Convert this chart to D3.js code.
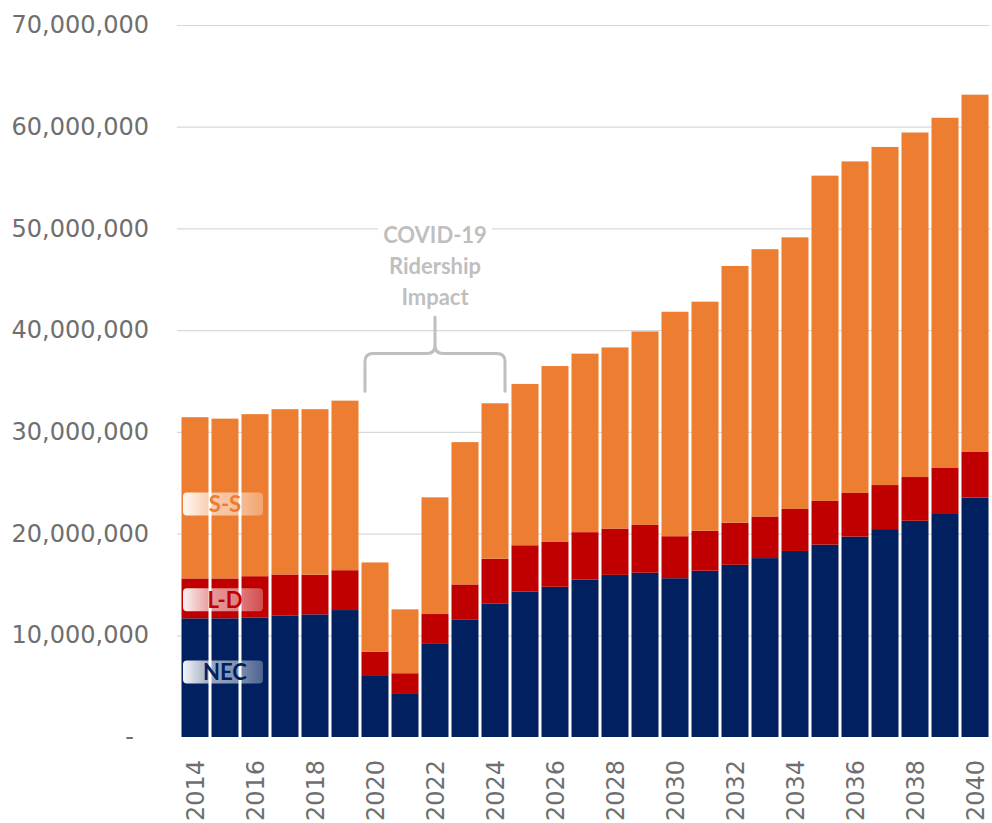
<!DOCTYPE html>
<html>
<head>
<meta charset="utf-8">
<script src="https://cdn.jsdelivr.net/npm/d3@7"></script>
<style>
  body { margin: 0; background: #fff; }
</style>
</head>
<body>
<div id="my_dataviz"></div>
<script>
// ridership by year
var years = ["2014","2015","2016","2017","2018","2019","2020","2021","2022","2023","2024","2025","2026",
             "2027","2028","2029","2030","2031","2032","2033","2034","2035","2036","2037","2038","2039","2040"];
var nec = [11.67, 11.67, 11.76, 11.96, 12.06, 12.48, 6.08, 4.31, 9.22, 11.57, 13.14, 14.28, 14.77,
           15.49, 15.94, 16.15, 15.61, 16.35, 16.93, 17.59, 18.29, 18.91, 19.70, 20.44, 21.26, 22.01, 23.53];
var ld  = [3.92, 3.92, 4.05, 4.02, 3.89, 3.92, 2.32, 1.96, 2.87, 3.43, 4.38, 4.57, 4.45,
           4.65, 4.55, 4.70, 4.13, 3.92, 4.13, 4.09, 4.13, 4.30, 4.29, 4.33, 4.30, 4.49, 4.54];
var ss  = [15.85, 15.71, 15.93, 16.25, 16.28, 16.67, 8.76, 6.28, 11.47, 13.99, 15.29, 15.86, 17.25,
           17.55, 17.81, 19.02, 22.07, 22.53, 25.25, 26.28, 26.70, 31.98, 32.60, 33.24, 33.87, 34.38, 35.08];
var yTicks = [0, 10000000, 20000000, 30000000, 40000000, 50000000, 60000000, 70000000];
var xTicks = ["2014","2016","2018","2020","2022","2024","2026","2028","2030","2032","2034","2036","2038","2040"];

var keys = ["NEC", "LD", "SS"];
var colors = {NEC: "#002060", LD: "#C00000", SS: "#ED7D31"};

var data = years.map(function(yr, i) {
  return {year: yr, NEC: nec[i] * 1e6, LD: ld[i] * 1e6, SS: ss[i] * 1e6};
});

var width = 992, height = 823;

var svg = d3.select("#my_dataviz")
    .append("svg")
    .attr("width", width)
    .attr("height", height);

var x = d3.scaleBand().domain(years).range([180, 990]).paddingInner(0.1).paddingOuter(0.05);
var y = d3.scaleLinear().domain([0, 70000000]).range([737, 25]);

// gridlines
svg.append("g")
  .selectAll("line")
  .data(yTicks.filter(function(d){ return d > 0; }))
  .enter().append("line")
    .attr("x1", 177).attr("x2", 990)
    .attr("y1", function(d){ return y(d) + 0.5; })
    .attr("y2", function(d){ return y(d) + 0.5; })
    .attr("stroke", "#d9d9d9")
    .attr("stroke-width", 1.2);

// y axis labels
var yAxis = svg.append("g")
  .attr("transform", "translate(149,0)")
  .call(d3.axisLeft(y).tickValues(yTicks).tickSize(0).tickPadding(0)
    .tickFormat(function(d){ return d === 0 ? "-" : d3.format(",")(d); }));
yAxis.select(".domain").remove();
yAxis.selectAll("text")
  .attr("font-family", "DejaVu Sans")
  .attr("font-size", 24)
  .attr("fill", "#6f6f6f")
  .attr("dx", function(d){ return d === 0 ? -15 : 0; });

// stacked bars
var stacked = d3.stack().keys(keys)(data);

svg.append("g")
  .selectAll("g")
  .data(stacked)
  .enter().append("g")
    .attr("fill", function(d){ return colors[d.key]; })
  .selectAll("rect")
  .data(function(d){ return d; })
  .enter().append("rect")
    .attr("x", function(d){ return x(d.data.year); })
    .attr("y", function(d){ return y(d[1]); })
    .attr("height", function(d){ return y(d[0]) - y(d[1]); })
    .attr("width", x.bandwidth());

// x axis labels
var xAxis = svg.append("g")
  .attr("transform", "translate(0,737)")
  .call(d3.axisBottom(x).tickValues(xTicks).tickSize(0).tickPadding(0));
xAxis.select(".domain").remove();
xAxis.selectAll("text")
  .attr("font-family", "DejaVu Sans")
  .attr("font-size", 24)
  .attr("fill", "#6f6f6f")
  .attr("text-anchor", "end")
  .attr("transform", "rotate(-90)")
  .attr("x", -23)
  .attr("y", 0)
  .attr("dy", "0.36em");

// series labels on the first bars
var defs = svg.append("defs");
var grad = defs.append("linearGradient").attr("id", "boxfade");
grad.append("stop").attr("offset", "0%").attr("stop-color", "#fff").attr("stop-opacity", 0.95);
grad.append("stop").attr("offset", "35%").attr("stop-color", "#fff").attr("stop-opacity", 0.6);
grad.append("stop").attr("offset", "70%").attr("stop-color", "#fff").attr("stop-opacity", 0.5);
grad.append("stop").attr("offset", "100%").attr("stop-color", "#fff").attr("stop-opacity", 0.3);

var seriesLabels = [
  {text: "S-S", key: "SS", v: 22900000},
  {text: "L-D", key: "LD", v: 13500000},
  {text: "NEC", key: "NEC", v: 6400000}
];
var lbl = svg.append("g").selectAll("g")
  .data(seriesLabels)
  .enter().append("g")
    .attr("transform", function(d){ return "translate(" + (x("2014") + 1.5) + "," + y(d.v) + ")"; });
lbl.append("rect")
  .attr("x", 0).attr("y", -11.5)
  .attr("width", 80).attr("height", 23)
  .attr("rx", 4)
  .attr("fill", "url(#boxfade)");
lbl.append("text")
  .attr("x", 42).attr("y", 0)
  .attr("dy", "0.36em")
  .attr("text-anchor", "middle")
  .attr("font-family", "Lato")
  .attr("font-weight", "bold")
  .attr("font-size", 22)
  .attr("fill", function(d){ return colors[d.key]; })
  .text(function(d){ return d.text; });

// COVID-19 annotation
var bx0 = x("2020") + 3.5, bx1 = x("2024") + x.bandwidth() - 3.5, bxm = (bx0 + bx1) / 2;
var yb = y(34000000), yh = y(37700000), yt = y(41300000);
var r = 8;
var brace = "M" + bx0 + "," + yb +
  " L" + bx0 + "," + (yh + r) +
  " Q" + bx0 + "," + yh + " " + (bx0 + r) + "," + yh +
  " L" + (bxm - r) + "," + yh +
  " Q" + bxm + "," + yh + " " + bxm + "," + (yh - r) +
  " L" + bxm + "," + yt +
  " M" + bxm + "," + (yh - r) +
  " Q" + bxm + "," + yh + " " + (bxm + r) + "," + yh +
  " L" + (bx1 - r) + "," + yh +
  " Q" + bx1 + "," + yh + " " + bx1 + "," + (yh + r) +
  " L" + bx1 + "," + yb;
svg.append("path")
  .attr("d", brace)
  .attr("fill", "none")
  .attr("stroke", "#bfbfbf")
  .attr("stroke-width", 3)
  .attr("stroke-linecap", "round");

svg.append("rect")
  .attr("x", bxm - 57).attr("y", 214)
  .attr("width", 114).attr("height", 96)
  .attr("fill", "#fff");
svg.append("text")
  .attr("text-anchor", "middle")
  .attr("font-family", "Lato")
  .attr("font-weight", "bold")
  .attr("font-size", 22)
  .attr("fill", "#bfbfbf")
  .selectAll("tspan")
  .data(["COVID-19", "Ridership", "Impact"])
  .enter().append("tspan")
    .attr("x", bxm)
    .attr("y", function(d, i){ return 243 + i * 31; })
    .text(function(d){ return d; });
</script>
</body>
</html>
